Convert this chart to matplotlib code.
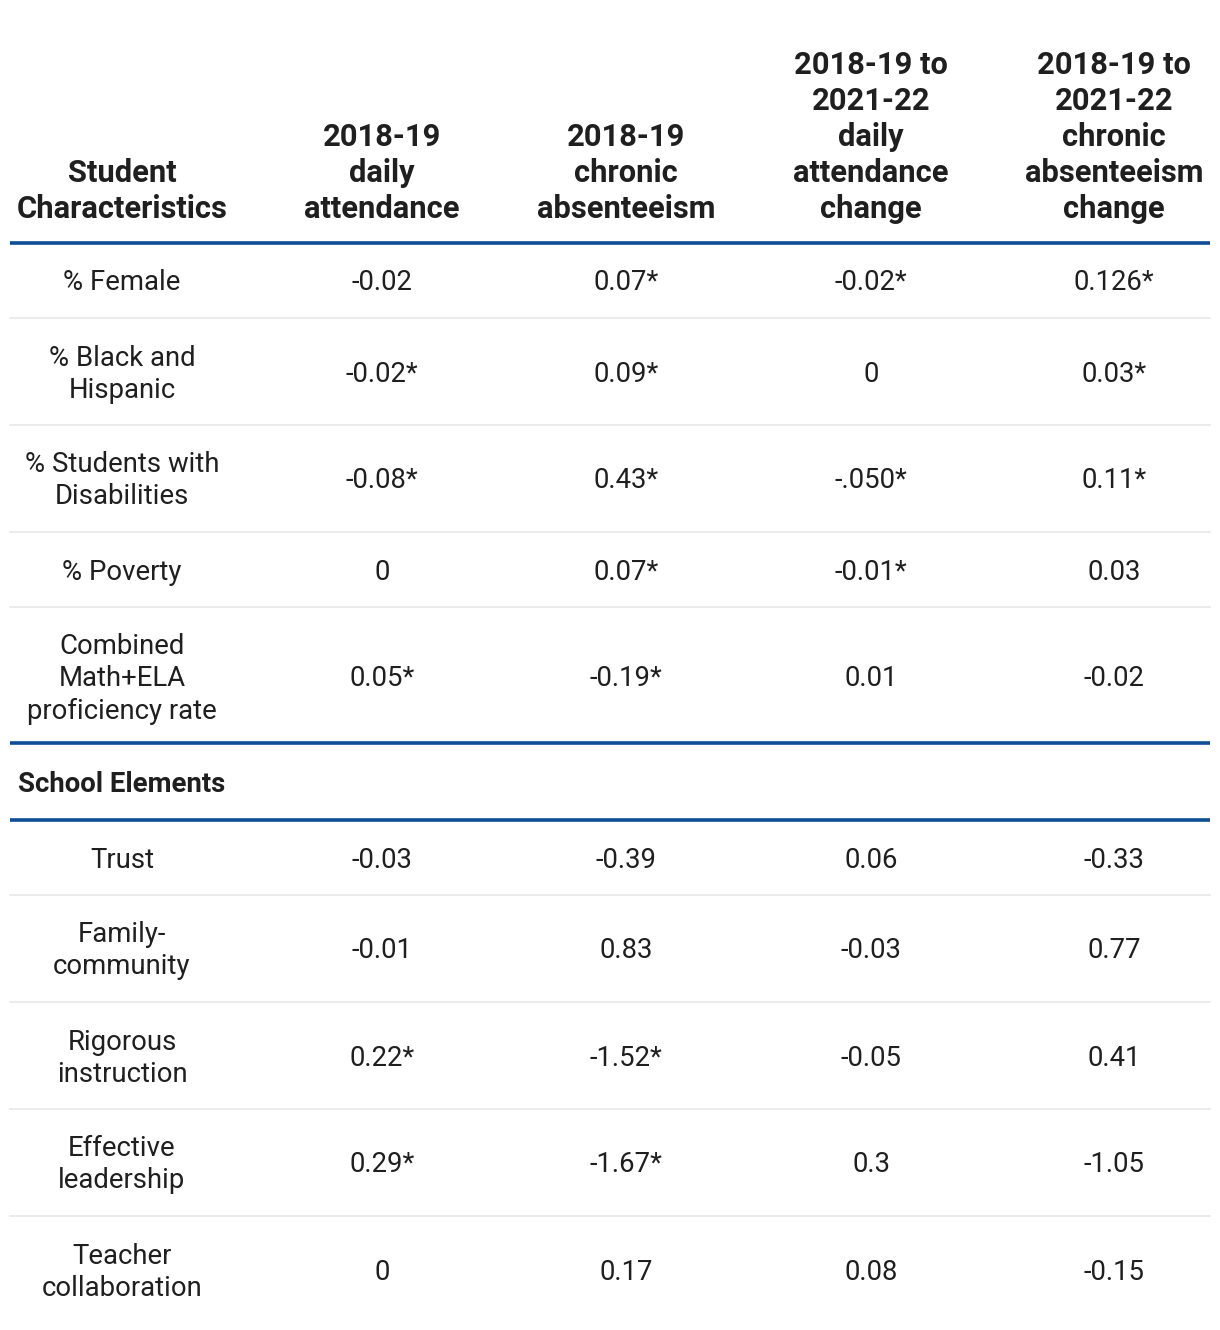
import matplotlib
matplotlib.use("Agg")
import matplotlib.pyplot as plt

plt.rcParams['font.family'] = ['Roboto', 'DejaVu Sans']

col_headers = [
    ["Student", "Characteristics"],
    ["2018-19", "daily", "attendance"],
    ["2018-19", "chronic", "absenteeism"],
    ["2018-19 to", "2021-22", "daily", "attendance", "change"],
    ["2018-19 to", "2021-22", "chronic", "absenteeism", "change"],
]

student_labels = [
    ["% Female"],
    ["% Black and", "Hispanic"],
    ["% Students with", "Disabilities"],
    ["% Poverty"],
    ["Combined", "Math+ELA", "proficiency rate"],
]
student_values = [
    ["-0.02", "0.07*", "-0.02*", "0.126*"],
    ["-0.02*", "0.09*", "0", "0.03*"],
    ["-0.08*", "0.43*", "-.050*", "0.11*"],
    ["0", "0.07*", "-0.01*", "0.03"],
    ["0.05*", "-0.19*", "0.01", "-0.02"],
]

section2_title = "School Elements"
school_labels = [
    ["Trust"],
    ["Family-", "community"],
    ["Rigorous", "instruction"],
    ["Effective", "leadership"],
    ["Teacher", "collaboration"],
]
school_values = [
    ["-0.03", "-0.39", "0.06", "-0.33"],
    ["-0.01", "0.83", "-0.03", "0.77"],
    ["0.22*", "-1.52*", "-0.05", "0.41"],
    ["0.29*", "-1.67*", "0.3", "-1.05"],
    ["0", "0.17", "0.08", "-0.15"],
]

W, H = 1220, 1330
fig = plt.figure(figsize=(W / 100, H / 100), dpi=100)
ax = fig.add_axes([0, 0, 1, 1])
ax.set_xlim(0, W)
ax.set_ylim(H, 0)
ax.axis('off')

TXT = '#1f1f1f'
BLUE = '#0d4e96'
GRAY = '#e8e8e8'
col_x = [122, 382, 626, 871, 1114]
X0, X1 = 10, 1210
HEAD_FS = 22.2
BODY_FS = 19.8
HEAD_LS = 36
BODY_LS = 32
DY = 2.5

# header
head_bottom = 207
for cx, lines in zip(col_x, col_headers):
    n = len(lines)
    for i, ln in enumerate(lines):
        y = head_bottom - HEAD_LS * (n - 1 - i)
        ax.text(cx, y + DY, ln, ha='center', va='center', fontsize=HEAD_FS,
                fontweight='bold', color=TXT)

y = 243
ax.plot([X0, X1], [y, y], color=BLUE, lw=2.6, solid_capstyle='butt')


def draw_rows(y, labels, values):
    for r, (lab, vals) in enumerate(zip(labels, values)):
        n = len(lab)
        h = 43 + BODY_LS * n
        cy = y + h / 2 + DY
        for i, ln in enumerate(lab):
            ly = cy + (i - (n - 1) / 2) * BODY_LS
            ax.text(col_x[0], ly, ln, ha='center', va='center',
                    fontsize=BODY_FS, color=TXT)
        for cx, v in zip(col_x[1:], vals):
            ax.text(cx, cy, v, ha='center', va='center',
                    fontsize=BODY_FS, color=TXT)
        y += h
        if r < len(labels) - 1:
            ax.plot([X0, X1], [y, y], color=GRAY, lw=1.2)
    return y


y = draw_rows(y, student_labels, student_values)
y = 743
ax.plot([X0, X1], [y, y], color=BLUE, lw=2.6, solid_capstyle='butt')
ax.text(18, y + 38.5 + DY, section2_title, ha='left', va='center',
        fontsize=BODY_FS, fontweight='bold', color=TXT)
y = 820
ax.plot([X0, X1], [y, y], color=BLUE, lw=2.6, solid_capstyle='butt')
y = draw_rows(y, school_labels, school_values)

fig.savefig('out.png', dpi=100, facecolor='white')
